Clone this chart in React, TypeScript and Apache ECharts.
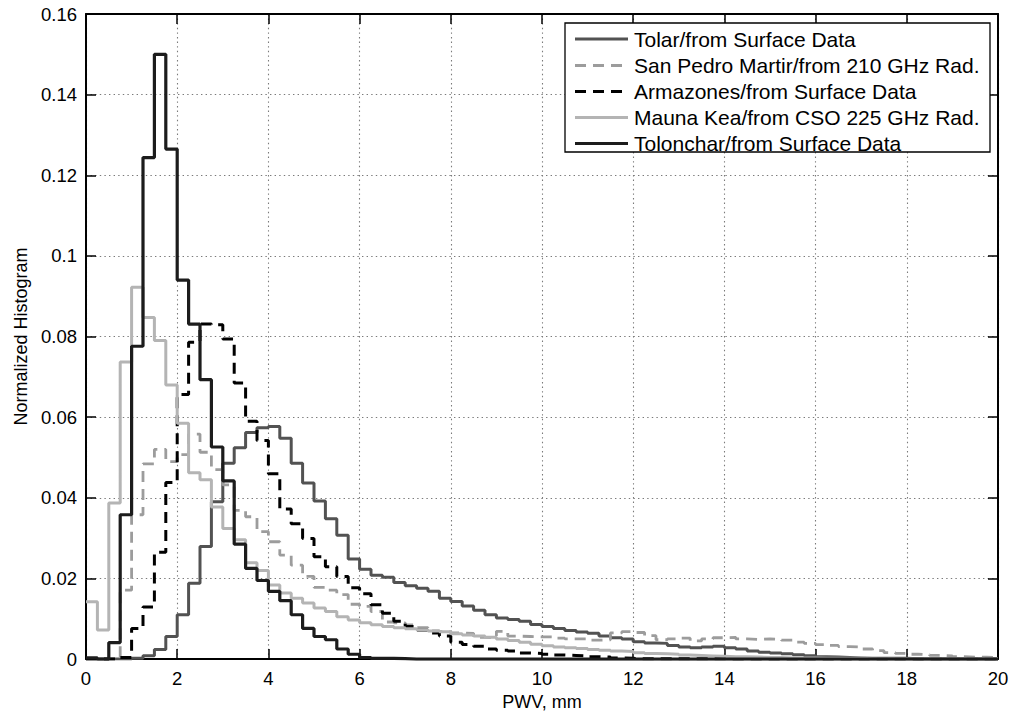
import React, { useEffect, useRef } from "react";
import * as echarts from "echarts";

// Bin width of the histograms (PWV, mm) and the x extent
const binWidth = 0.25;
const xTicks = [0, 2, 4, 6, 8, 10, 12, 14, 16, 18, 20];
const yTicks = [0, 0.02, 0.04, 0.06, 0.08, 0.1, 0.12, 0.14, 0.16];

const seriesNames = [
  "Tolar/from Surface Data",
  "San Pedro Martir/from 210 GHz Rad.",
  "Armazones/from Surface Data",
  "Mauna Kea/from CSO 225 GHz Rad.",
  "Tolonchar/from Surface Data",
];

// Normalized histogram values, one per 0.25 mm bin from 0 to 20 mm
const tolar = [
  0, 0, 0, 0, 0.0002, 0.0008, 0.0024, 0.0056, 0.011, 0.0188,
  0.0279, 0.039, 0.0486, 0.0524, 0.0562, 0.0574, 0.0577, 0.0548, 0.0486, 0.0437,
  0.0392, 0.0348, 0.0307, 0.0248, 0.0223, 0.0208, 0.0203, 0.019, 0.0182, 0.0176,
  0.0168, 0.0151, 0.0143, 0.0132, 0.0121, 0.011, 0.0102, 0.0098, 0.0094, 0.0086,
  0.0081, 0.0076, 0.0071, 0.0067, 0.0064, 0.0057, 0.0053, 0.005, 0.0043, 0.004,
  0.0039, 0.0034, 0.003, 0.0028, 0.003, 0.0032, 0.0028, 0.0025, 0.002, 0.0017,
  0.0015, 0.0013, 0.0011, 0.0008, 0.0006, 0.0005, 0.0004, 0.0003, 0.0002, 0.0002,
  0.0002, 0.0002, 0.0001, 0.0001, 0.0001, 0.0001, 0.0001, 0.0001, 0.0001, 0.0001,
];

const sanPedroMartir = [
  0, 0, 0, 0.0171, 0.0358, 0.0484, 0.052, 0.049, 0.0507, 0.0558,
  0.0513, 0.047, 0.0432, 0.0369, 0.0353, 0.0316, 0.0291, 0.0258, 0.0233, 0.0205,
  0.0178, 0.0171, 0.016, 0.0136, 0.0131, 0.0118, 0.0092, 0.009, 0.0085, 0.0078,
  0.007, 0.0068, 0.0065, 0.0064, 0.0054, 0.0053, 0.0069, 0.0057, 0.0056, 0.0055,
  0.0055, 0.0052, 0.005, 0.005, 0.0047, 0.0048, 0.0065, 0.0068, 0.0066, 0.0058,
  0.0048, 0.005, 0.0052, 0.0045, 0.005, 0.0053, 0.0054, 0.005, 0.0049, 0.005,
  0.0049, 0.0047, 0.0042, 0.0039, 0.0036, 0.0034, 0.0031, 0.003, 0.0025, 0.0021,
  0.0016, 0.0014, 0.0012, 0.0011, 0.0009, 0.0008, 0.0006, 0.0005, 0.0005, 0.0004,
];

const armazones = [
  0, 0, 0, 0.0004, 0.0076, 0.0129, 0.0265, 0.0438, 0.0656, 0.0786,
  0.0831, 0.0829, 0.0794, 0.0685, 0.059, 0.0542, 0.046, 0.0372, 0.0336, 0.0299,
  0.0254, 0.0229, 0.0205, 0.0177, 0.0162, 0.0135, 0.0114, 0.0094, 0.0081, 0.0072,
  0.0065, 0.0057, 0.0042, 0.0036, 0.0032, 0.0025, 0.0022, 0.002, 0.0015, 0.0014,
  0.0012, 0.001, 0.0009, 0.0008, 0.0006, 0.0005, 0.0003, 0.0002, 0.0001, 0.0001,
  0.0001, 0.0001, 0.0001, 0.0001, 0.0001, 0.0001, 0, 0, 0, 0,
  0, 0, 0, 0, 0, 0, 0, 0, 0, 0,
  0, 0, 0, 0, 0, 0, 0, 0, 0, 0,
];

const maunaKea = [
  0.0142, 0.0072, 0.0387, 0.0737, 0.0922, 0.0847, 0.079, 0.068, 0.0585, 0.0462,
  0.0445, 0.0377, 0.0324, 0.0296, 0.0239, 0.022, 0.0184, 0.0164, 0.0151, 0.0139,
  0.0127, 0.0118, 0.0105, 0.0097, 0.009, 0.0085, 0.0081, 0.0078, 0.0075, 0.0073,
  0.007, 0.0068, 0.0063, 0.006, 0.0057, 0.0054, 0.005, 0.0046, 0.0042, 0.0037,
  0.0033, 0.003, 0.0028, 0.0026, 0.0024, 0.0022, 0.002, 0.0019, 0.0016, 0.0014,
  0.0013, 0.0012, 0.001, 0.0009, 0.0008, 0.0007, 0.0006, 0.0006, 0.0005, 0.0004,
  0.0004, 0.0003, 0.0003, 0.0003, 0.0002, 0.0002, 0.0002, 0.0002, 0.0001, 0.0001,
  0.0001, 0.0001, 0.0001, 0.0001, 0.0001, 0.0001, 0.0001, 0.0001, 0.0001, 0.0001,
];

const tolonchar = [
  0.0003, 0, 0.0041, 0.0358, 0.0776, 0.1244, 0.15, 0.1265, 0.094, 0.0831,
  0.0693, 0.0526, 0.0442, 0.0285, 0.0225, 0.0195, 0.0168, 0.0145, 0.011, 0.0076,
  0.0056, 0.0048, 0.0025, 0.0012, 0.0004, 0.0002, 0.0002, 0.0001, 0, 0,
  0, 0, 0, 0, 0, 0, 0, 0, 0, 0,
  0, 0, 0, 0, 0, 0, 0, 0, 0, 0,
  0, 0, 0, 0, 0, 0, 0, 0, 0, 0,
  0, 0, 0, 0, 0, 0, 0, 0, 0, 0,
  0, 0, 0, 0, 0, 0, 0, 0, 0, 0,
];

const FONT = "'Liberation Sans', Arial, Helvetica, sans-serif";

function toSteps(values: number[]) {
  const pts = values.map((v, i) => [i * binWidth, v]);
  pts.push([values.length * binWidth, values[values.length - 1]]);
  return pts;
}

const styles = [
  { color: "#525252", dash: null as number[] | null, width: 3 },
  { color: "#9c9c9c", dash: [11, 7], width: 2.8 },
  { color: "#000000", dash: [11, 7], width: 3 },
  { color: "#b4b4b4", dash: null as number[] | null, width: 3 },
  { color: "#1c1c1c", dash: null as number[] | null, width: 3.2 },
];

const allData = [tolar, sanPedroMartir, armazones, maunaKea, tolonchar];

// Legend box layout (pixels)
const LEG = { x: 565, y: 23, w: 425, h: 129, rowY: [39, 65.5, 91.5, 117.5, 143.5], lineX0: 575, lineX1: 628, textX: 634 };

export default function App() {
  const ref = useRef<HTMLDivElement>(null);
  useEffect(() => {
    if (!ref.current) return;
    const chart = echarts.init(ref.current, undefined, { renderer: "svg" });
    const axisLineStyle = { color: "#000", width: 2 };
    const tickStyle = { color: "#000", width: 1.5 };
    const gridLine = { color: "#7a7a7a", type: [1.4, 3.2] as any, width: 1.1 };

    const legendElements: any[] = [
      {
        type: "rect",
        shape: { x: LEG.x, y: LEG.y, width: LEG.w, height: LEG.h },
        style: { fill: "#ffffff", stroke: "#000", lineWidth: 1.3 },
        z: 100,
      },
    ];
    seriesNames.forEach((name, i) => {
      const s = styles[i];
      legendElements.push({
        type: "line",
        shape: { x1: LEG.lineX0, y1: LEG.rowY[i], x2: LEG.lineX1, y2: LEG.rowY[i] },
        style: { stroke: s.color, lineWidth: s.width, lineDash: s.dash || undefined },
        z: 101,
      });
      legendElements.push({
        type: "text",
        x: LEG.textX,
        y: LEG.rowY[i],
        style: {
          text: name,
          fill: "#000",
          fontSize: 21,
          fontFamily: FONT,
          verticalAlign: "middle",
          align: "left",
        },
        z: 101,
      });
    });

    const option: any = {
      animation: false,
      backgroundColor: "#ffffff",
      textStyle: { fontFamily: FONT },
      grid: { left: 86, right: 15, top: 14, bottom: 53 },
      xAxis: [
        {
          type: "value",
          min: xTicks[0],
          max: xTicks[xTicks.length - 1],
          interval: 2,
          position: "bottom",
          name: "PWV, mm",
          nameLocation: "middle",
          nameGap: 32,
          nameTextStyle: { color: "#000", fontSize: 18, fontFamily: FONT },
          axisLine: { show: true, onZero: false, lineStyle: axisLineStyle },
          axisTick: { show: true, inside: true, length: 10, lineStyle: tickStyle },
          axisLabel: { color: "#000", fontSize: 18.5, margin: 10, fontFamily: FONT },
          splitLine: { show: true, lineStyle: gridLine },
        },
        {
          type: "value",
          min: xTicks[0],
          max: xTicks[xTicks.length - 1],
          interval: 2,
          position: "top",
          axisLine: { show: true, onZero: false, lineStyle: axisLineStyle },
          axisTick: { show: true, inside: true, length: 10, lineStyle: tickStyle },
          axisLabel: { show: false },
          splitLine: { show: false },
        },
      ],
      yAxis: [
        {
          type: "value",
          min: yTicks[0],
          max: yTicks[yTicks.length - 1],
          interval: 0.02,
          position: "left",
          name: "Normalized Histogram",
          nameLocation: "middle",
          nameGap: 56,
          nameTextStyle: { color: "#000", fontSize: 18, fontFamily: FONT },
          axisLine: { show: true, onZero: false, lineStyle: axisLineStyle },
          axisTick: { show: true, inside: true, length: 10, lineStyle: tickStyle },
          axisLabel: { color: "#000", fontSize: 18.5, margin: 9, fontFamily: FONT },
          splitLine: { show: true, lineStyle: gridLine },
        },
        {
          type: "value",
          min: yTicks[0],
          max: yTicks[yTicks.length - 1],
          interval: 0.02,
          position: "right",
          axisLine: { show: true, onZero: false, lineStyle: axisLineStyle },
          axisTick: { show: true, inside: true, length: 10, lineStyle: tickStyle },
          axisLabel: { show: false },
          splitLine: { show: false },
        },
      ],
      graphic: legendElements,
      series: allData.map((vals, i) => ({
        name: seriesNames[i],
        type: "line",
        step: "end",
        xAxisIndex: 0,
        yAxisIndex: 0,
        showSymbol: false,
        symbol: "none",
        data: toSteps(vals),
        color: styles[i].color,
        lineStyle: {
          color: styles[i].color,
          type: styles[i].dash ? styles[i].dash : "solid",
          width: styles[i].width,
        },
        z: 2 + i,
      })),
    };
    chart.setOption(option);
    return () => chart.dispose();
  }, []);
  return (
    <div
      ref={ref}
      style={{ position: "fixed", left: 0, top: 0, width: 1013, height: 716, background: "#fff" }}
    />
  );
}
